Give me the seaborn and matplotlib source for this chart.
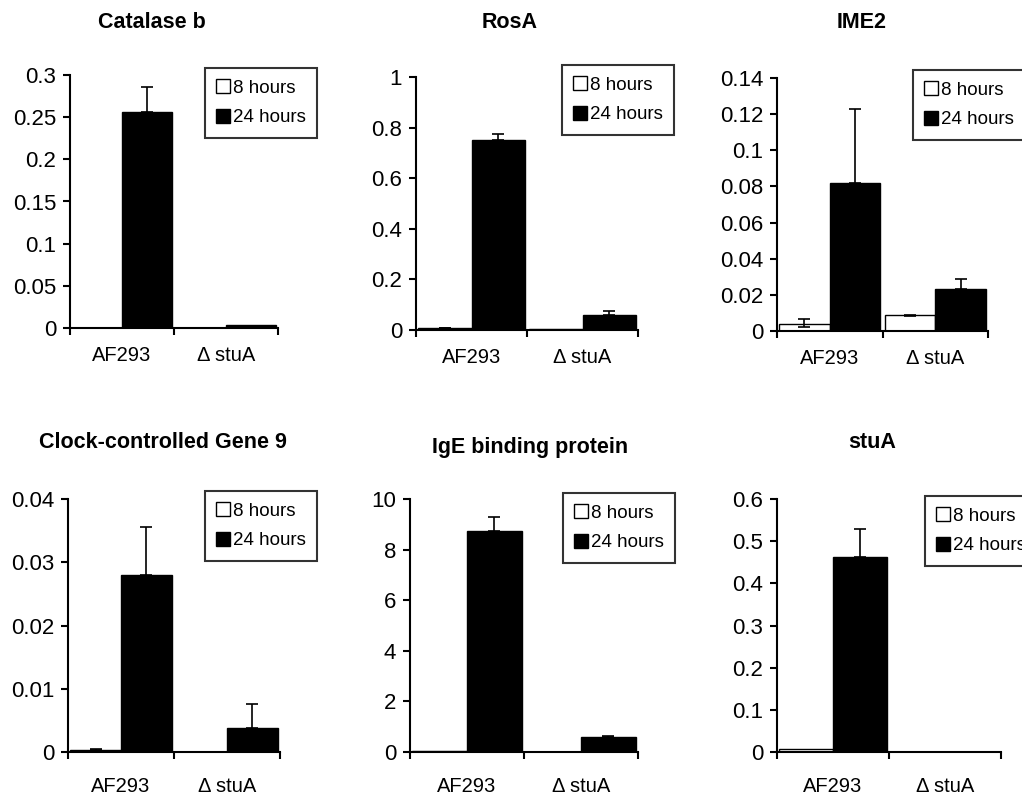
import numpy as np
import pandas as pd
import seaborn as sns
import matplotlib.pyplot as plt
from matplotlib.ticker import FuncFormatter, MultipleLocator, FixedLocator

# data, order per gene: [AF293 8h, AF293 24h, dstuA 8h, dstuA 24h]
strains = ["AF293", "Δ stuA"]
times = ["8 hours", "24 hours"]
genes = ["Catalase b", "RosA", "IME2",
         "Clock-controlled Gene 9", "IgE binding protein", "stuA"]

catalase_b = [0.0005, 0.256, 0.0003, 0.004]
catalase_b_err = [0, 0.030, 0, 0]
rosA = [0.006, 0.752, 0.002, 0.058]
rosA_err = [0.003, 0.022, 0, 0.018]
ime2 = [0.004, 0.082, 0.009, 0.023]
ime2_err = [0.0025, 0.041, 0, 0.006]
ime2_err_down = [0.002, 0, 0.0007, 0]
ccg9 = [0.0003, 0.028, 0.00005, 0.0038]
ccg9_err = [0.0002, 0.0075, 0, 0.0038]
ige = [0.02, 8.72, 0.01, 0.58]
ige_err = [0, 0.58, 0, 0.05]
stua = [0.008, 0.462, 0, 0]
stua_err = [0, 0.067, 0, 0]

values = [catalase_b, rosA, ime2, ccg9, ige, stua]
errs_up = [catalase_b_err, rosA_err, ime2_err, ccg9_err, ige_err, stua_err]
errs_down = [[0] * 4, [0] * 4, ime2_err_down, [0] * 4, [0] * 4, [0] * 4]
y_max = [0.3, 1, 0.14, 0.04, 10, 0.6]
y_step = [0.05, 0.2, 0.02, 0.01, 2, 0.1]

sns.set_style("ticks")
plt.rcParams['font.family'] = ['Liberation Sans', 'DejaVu Sans']
plt.rcParams['text.color'] = 'black'

fig = plt.figure(figsize=(10.22, 7.96), dpi=100)
W, H = 1022, 796

# axes boxes in pixels: left, right, top, zero line
boxes = [(70, 278, 75, 328), (416, 638, 77, 330), (777, 988, 78, 331),
         (68, 280, 499, 752), (410, 638, 499, 752), (777, 1001, 499, 752)]
titles_xy = [(152, 22), (510, 22), (862, 22), (163, 443), (530, 447), (872, 443)]
legend_xy = [(205, 68), (562, 65), (913, 70), (205, 491), (563, 493), (925, 496)]

for i, gene in enumerate(genes):
    l, r, t, b = boxes[i]
    ax = fig.add_axes([l / W, 1 - b / H, (r - l) / W, (b - t) / H])
    df = pd.DataFrame({
        "strain": [s for s in strains for _ in times],
        "time": [tm for _ in strains for tm in times],
        "value": values[i],
    })
    sns.barplot(data=df, x="strain", y="value", hue="time",
                order=strains, hue_order=times,
                palette={"8 hours": "white", "24 hours": "black"},
                edgecolor="black", linewidth=1.0, width=0.96,
                errorbar=None, ax=ax)

    # error bars from the bar positions
    bar_conts = list(ax.containers)
    for h, cont in enumerate(bar_conts):
        for s, bar in enumerate(cont):
            k = s * 2 + h
            up, dn = errs_up[i][k], errs_down[i][k]
            if up == 0 and dn == 0:
                continue
            xc = bar.get_x() + bar.get_width() / 2
            ax.errorbar(xc, values[i][k], yerr=[[dn], [up]], fmt="none",
                        ecolor="black", elinewidth=1.2, capsize=4,
                        capthick=1.2, zorder=5)

    ax.set_xlim(-0.5, 1.5)
    ax.set_ylim(0, y_max[i])
    ax.yaxis.set_major_locator(MultipleLocator(y_step[i]))
    ax.yaxis.set_major_formatter(FuncFormatter(lambda v, p: f"{round(v, 6):g}"))
    ax.xaxis.set_minor_locator(FixedLocator([-0.5, 0.5, 1.5]))
    ax.tick_params(axis="x", which="major", length=0,
                   pad=13 if i < 3 else 18, labelsize=14.5,
                   labelcolor="black")
    ax.tick_params(axis="x", which="minor", length=5, width=1.5,
                   direction="out", color="black")
    ax.tick_params(axis="y", length=5, width=1.5, labelsize=16, pad=5,
                   color="black", labelcolor="black")
    sns.despine(ax=ax)
    for sp in ["left", "bottom"]:
        ax.spines[sp].set_linewidth(1.5)
        ax.spines[sp].set_color("black")
    ax.set_xlabel("")
    ax.set_ylabel("")

    handles, labels = ax.get_legend_handles_labels()
    lx, ly = legend_xy[i]
    leg = ax.legend(handles, labels, loc="upper left",
                    bbox_to_anchor=(lx / W, 1 - ly / H),
                    bbox_transform=fig.transFigure, fontsize=13.5,
                    frameon=True, fancybox=False, handlelength=0.75,
                    handleheight=0.75, handletextpad=0.15, labelspacing=0.65,
                    borderpad=0.6, borderaxespad=0)
    leg.get_frame().set_edgecolor("black")
    leg.get_frame().set_linewidth(1.5)

    tx, ty = titles_xy[i]
    fig.text(tx / W, 1 - ty / H, gene, ha="center", va="center",
             fontsize=15.5, fontweight="bold")

fig.savefig("out.png", dpi=100)
